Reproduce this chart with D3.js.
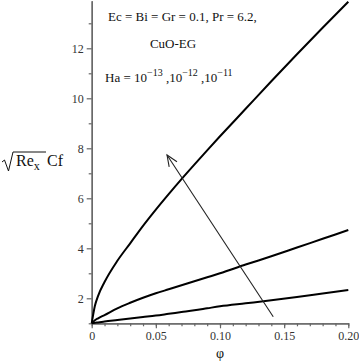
<!DOCTYPE html>
<html>
<head>
<meta charset="utf-8">
<script src="https://cdn.jsdelivr.net/npm/d3@7"></script>
<style>
  body { margin: 0; background: #fff; }
</style>
</head>
<body>
<div id="d3-container"></div>
<script>
const width = 359
const height = 362

// phi values and the three skin-friction curves (Ha = 1e-13, 1e-12, 1e-11)
const phi = [0, 0.0025, 0.005, 0.01, 0.02, 0.03, 0.04, 0.05, 0.06, 0.07, 0.08, 0.09, 0.10, 0.12, 0.14, 0.16, 0.18, 0.20]
const cfLow = [1, 1.02, 1.035, 1.07, 1.13, 1.19, 1.25, 1.31, 1.38, 1.45, 1.52, 1.6, 1.68, 1.8, 1.92, 2.05, 2.19, 2.33]
const cfMid = [1, 1.12, 1.2, 1.33, 1.6, 1.82, 2.02, 2.2, 2.36, 2.52, 2.68, 2.84, 3.0, 3.35, 3.68, 4.03, 4.38, 4.73]
const cfHigh = [1, 1.7, 2.1, 2.65, 3.5, 4.2, 4.9, 5.55, 6.17, 6.77, 7.35, 7.92, 8.48, 9.58, 10.68, 11.76, 12.82, 13.86]

const xTicks = [0, 0.05, 0.10, 0.15, 0.20]
const xTickLabels = ["0", "0.05", "0.10", "0.15", "0.20"]
const yTicks = [2, 4, 6, 8, 10, 12]
const yMinor = [1, 3, 5, 7, 9, 11, 13]
const xMinor = d3.range(0, 0.2001, 0.01)

// arrow annotation, [phi, value] from tail to head
const arrowPts = [[0.1415, 1.26], [0.0587, 7.73]]

const svg = d3.select("#d3-container")
  .append("svg")
  .attr("width", width)
  .attr("height", height)

const xScale = d3.scaleLinear()
  .domain([0, 0.2])
  .range([91.7, 348.3])

const yScale = d3.scaleLinear()
  .domain([1, 13.9])
  .range([323.3, 0.8])

const axisColor = "#666"

// x axis
svg.append("g")
  .attr("transform", `translate(0,${yScale(1)})`)
  .call(d3.axisBottom(xScale).tickValues(xTicks).tickFormat((d, i) => xTickLabels[i]).tickSize(5).tickPadding(3).tickSizeOuter(0))
svg.append("g")
  .attr("transform", `translate(0,${yScale(1)})`)
  .call(d3.axisBottom(xScale).tickValues(xMinor).tickFormat("").tickSize(3).tickSizeOuter(0))

// y axis
svg.append("g")
  .attr("transform", `translate(${xScale(0)},0)`)
  .call(d3.axisLeft(yScale).tickValues(yTicks).tickFormat(d3.format("d")).tickSize(5).tickPadding(3).tickSizeOuter(0))
svg.append("g")
  .attr("transform", `translate(${xScale(0)},0)`)
  .call(d3.axisLeft(yScale).tickValues(yMinor).tickFormat("").tickSize(3).tickSizeOuter(0))

svg.selectAll(".domain").attr("stroke", axisColor).attr("stroke-width", 1.3)
svg.selectAll(".tick line").attr("stroke", axisColor).attr("stroke-width", 1.2)
svg.selectAll(".tick text")
  .attr("fill", "#333")
  .style("font-size", "12px")

// curves
const lineFunc = d3.line()
  .x(d => xScale(d[0]))
  .y(d => yScale(d[1]))
  .curve(d3.curveMonotoneX)

const series = [cfLow, cfMid, cfHigh].map(s => s.map((v, i) => [phi[i], v]))

svg.selectAll("path.trend")
  .data(series)
  .join("path")
  .attr("class", "trend")
  .attr("d", d => lineFunc(d))
  .attr("fill", "none")
  .attr("stroke", "#000")
  .attr("stroke-width", 2)

// arrow
const ax0 = xScale(arrowPts[0][0]), ay0 = yScale(arrowPts[0][1])
const ax1 = xScale(arrowPts[1][0]), ay1 = yScale(arrowPts[1][1])
svg.append("line")
  .attr("x1", ax0).attr("y1", ay0)
  .attr("x2", ax1).attr("y2", ay1)
  .attr("stroke", "#222").attr("stroke-width", 1.1)
const ang = Math.atan2(ay0 - ay1, ax0 - ax1)
const headLen = 12, spread = 0.4
svg.append("path")
  .attr("d", `M${ax1 + headLen * Math.cos(ang - spread)},${ay1 + headLen * Math.sin(ang - spread)}L${ax1},${ay1}L${ax1 + headLen * Math.cos(ang + spread)},${ay1 + headLen * Math.sin(ang + spread)}`)
  .attr("fill", "none").attr("stroke", "#222").attr("stroke-width", 1.1)

// annotations
const note = svg.append("g").attr("fill", "#111")
note.append("text").attr("x", 108).attr("y", 21).style("font-size", "13px").text("Ec = Bi = Gr = 0.1, Pr = 6.2,")
note.append("text").attr("x", 173).attr("y", 48).attr("text-anchor", "middle").style("font-size", "13px").text("CuO-EG")
const ha = note.append("text").attr("x", 105).attr("y", 82).style("font-size", "13px")
ha.append("tspan").text("Ha = 10")
ha.append("tspan").attr("dy", -6).style("font-size", "10px").text("−13")
ha.append("tspan").attr("dy", 6).text(" ,10")
ha.append("tspan").attr("dy", -6).style("font-size", "10px").text("−12")
ha.append("tspan").attr("dy", 6).text(" ,10")
ha.append("tspan").attr("dy", -6).style("font-size", "10px").text("−11")

// y label: sqrt(Re_x) Cf
const yl = svg.append("g").attr("fill", "#111")
yl.append("path")
  .attr("d", "M2,162 L4.5,160 L8.5,171 L13,152 L46,152")
  .attr("fill", "none").attr("stroke", "#111").attr("stroke-width", 1)
const ylt = yl.append("text").attr("x", 16).attr("y", 166).style("font-size", "16px")
ylt.append("tspan").text("Re")
ylt.append("tspan").attr("dy", 4).style("font-size", "12px").text("x")
ylt.append("tspan").attr("dy", -4).attr("x", 47).text("Cf")

// x label
svg.append("text")
  .attr("x", xScale(0.1)).attr("y", 358)
  .attr("text-anchor", "middle")
  .attr("fill", "#111")
  .style("font-size", "14px")
  .text("φ")

// serif everywhere, set on each text directly
svg.selectAll("text").style("font-family", "'Liberation Serif'")
</script>
</body>
</html>
